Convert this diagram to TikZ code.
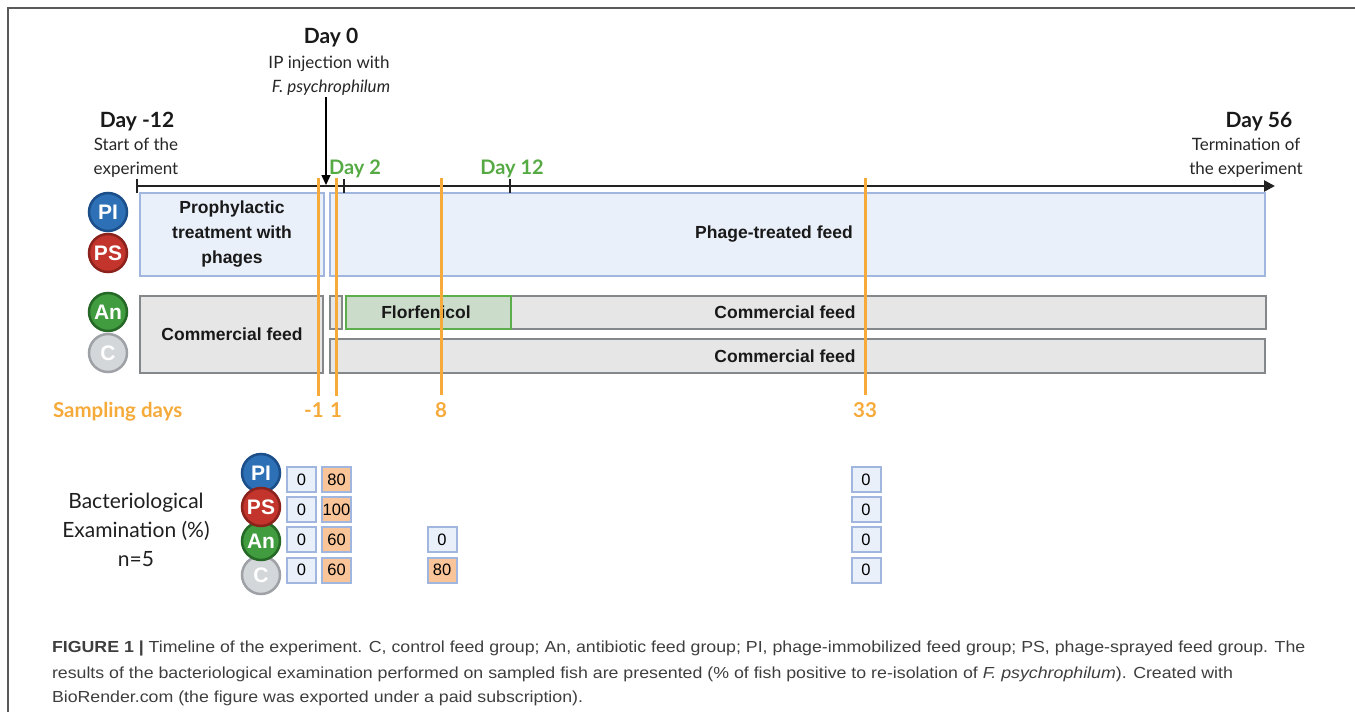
\documentclass[tikz,border=0pt]{standalone}
\usepackage{fontspec}
\setmainfont{Liberation Sans}
\newfontfamily\lato{Lato}
\newfontfamily\capfont[FakeStretch=1.11]{Liberation Sans}
\usetikzlibrary{arrows.meta}
\definecolor{framec}{RGB}{90,90,90}
\definecolor{axisc}{RGB}{34,34,34}
\definecolor{greentxt}{RGB}{86,170,68}
\definecolor{orangec}{RGB}{245,170,58}
\definecolor{bboxf}{RGB}{234,240,250}
\definecolor{bboxd}{RGB}{160,182,222}
\definecolor{gboxf}{RGB}{230,230,230}
\definecolor{gboxd}{RGB}{132,136,139}
\definecolor{fboxf}{RGB}{204,220,203}
\definecolor{fboxd}{RGB}{92,174,76}
\definecolor{posf}{RGB}{248,196,152}
\definecolor{piF}{RGB}{46,112,182}
\definecolor{piD}{RGB}{28,78,138}
\definecolor{psF}{RGB}{194,52,44}
\definecolor{psD}{RGB}{140,34,28}
\definecolor{anF}{RGB}{64,156,62}
\definecolor{anD}{RGB}{38,104,38}
\definecolor{cF}{RGB}{212,215,218}
\definecolor{cD}{RGB}{158,162,166}
\definecolor{capc}{RGB}{62,62,62}
\begin{document}
\begin{tikzpicture}[x=1pt,y=-1pt,
  every node/.style={inner sep=0pt, outer sep=0pt},
  hdr/.style={font=\lato\bfseries\fontsize{21}{25}\selectfont, anchor=base, text=black!90},
  subt/.style={font=\lato\fontsize{17}{24}\selectfont, anchor=base, text=black!85},
  grn/.style={font=\lato\bfseries\fontsize{20}{24}\selectfont, anchor=base, text=greentxt},
  bbox/.style={draw=bboxd, fill=bboxf, line width=2pt},
  gbox/.style={draw=gboxd, fill=gboxf, line width=2.5pt},
  fbox/.style={draw=fboxd, fill=fboxf, line width=2.5pt},
  btxt/.style={font=\bfseries\fontsize{17.5}{25}\selectfont, align=center, text=black!90},
  circ/.style={circle, minimum size=38pt, line width=2.5pt, font=\bfseries\fontsize{21}{21}\selectfont, text=white},
  orline/.style={draw=orangec, line width=3pt},
  ortxt/.style={font=\lato\bfseries\fontsize{20.5}{24}\selectfont, anchor=base, text=orangec},
  axisline/.style={draw=axisc, line width=2.5pt},
  cell/.style={draw=bboxd, line width=2pt, minimum width=29pt, minimum height=25pt, font=\fontsize{16.5}{16.5}\selectfont, text=black},
  negcell/.style={cell, fill=bboxf},
  poscell/.style={cell, fill=posf},
  captxt/.style={font=\capfont\fontsize{16}{20}\selectfont, text=capc, anchor=base west}
]
\useasboundingbox (0,0) rectangle (1355,712);
% frame
\draw[framec, line width=1.5pt] (1355,8) -- (8,8) -- (8,712);

% headers
\node[hdr] (d0) at (331,43) {Day 0};
\node[subt] (d0a) at (329,68) {IP injection with};
\node[subt] (d0b) at (331,92) {\itshape F. psychrophilum};
\node[hdr] (dm12) at (137,127) {Day -12};
\node[subt] (dm12a) at (136,150) {Start of the};
\node[subt] (dm12b) at (136,174) {experiment};
\node[hdr] (d56) at (1259,127) {Day 56};
\node[subt] (d56a) at (1246,150) {Termination of};
\node[subt] (d56b) at (1246,174) {the experiment};
\node[grn] (d2) at (355,174) {Day 2};
\node[grn] (d12) at (512,174) {Day 12};

% boxes
\node[bbox, minimum width=184pt, minimum height=83pt] (pre) at (232,234.5) {};
\node[btxt] (pretxt) at (232,234.5) {Prophylactic\\treatment with\\phages};
\node[bbox, minimum width=935pt, minimum height=83pt] (phage) at (797.5,234.5) {};
\node[btxt] (phagetxt) at (774,234.5) {Phage-treated feed};
\node[gbox, minimum width=183pt, minimum height=77pt] (cfl) at (231.5,334.5) {};
\node[btxt] (cfltxt) at (232,334.5) {Commercial feed};
\node[gbox, minimum width=12pt, minimum height=33pt] (small) at (336,312.5) {};
\node[gbox, minimum width=756pt, minimum height=33pt] (cft) at (888,312.5) {};
\node[fbox, minimum width=165pt, minimum height=33pt] (flor) at (428.5,312.5) {};
\node[btxt] (flortxt) at (426,312.5) {Florfenicol};
\node[btxt] (cfttxt) at (785,312.5) {Commercial feed};
\node[gbox, minimum width=935pt, minimum height=34pt] (cfb) at (797.5,356) {};
\node[btxt] (cfbtxt) at (785,356) {Commercial feed};

% group circles (timeline)
\node[circ, fill=piF, draw=piD] (pi1) at (108,212) {PI};
\node[circ, fill=psF, draw=psD] (ps1) at (108,253) {PS};
\node[circ, fill=anF, draw=anD] (an1) at (108,312) {An};
\node[circ, fill=cF, draw=cD] (c1) at (108,353) {C};

% axis
\coordinate (axs) at (137,186);
\coordinate (axe) at (1275,186);
\draw[axisline, -{Triangle[length=11pt,width=11pt]}] (axs) -- (axe);
\draw[axisc, line width=2pt] (137,179) -- (137,193);
\draw[axisc, line width=2pt] (344,179) -- (344,193);
\draw[axisc, line width=2pt] (510,179) -- (510,193);

% day 0 arrow
\coordinate (d0top) at (326,97);
\coordinate (d0pt) at (326,185);
\draw[black, line width=1.3pt, -{Triangle[length=10pt,width=9pt]}] (d0top) -- (d0pt);

% sampling days
\node[ortxt, anchor=base west] (sdays) at (53,417) {Sampling days};
\node[ortxt] (s1) at (314,417) {-1};
\node[ortxt] (s2) at (336,417) {1};
\node[ortxt] (s3) at (441,417) {8};
\node[ortxt] (s4) at (865,417) {33};
\coordinate (t1) at (318,178);
\coordinate (t2) at (336,178);
\coordinate (t3) at (441,178);
\coordinate (t4) at (865,178);
\draw[orline] (t1) -- (318,396);
\draw[orline] (t2) -- (336,396);
\draw[orline] (t3) -- ([yshift=7pt]s3.north);
\draw[orline] (t4) -- ([yshift=7pt]s4.north);

% bacteriological examination
\node[font=\lato\fontsize{21}{29}\selectfont, align=center, text=black!88] (bact) at (136,530) {Bacteriological\\Examination (\%)\\n=5};

\node[circ, fill=piF, draw=piD] (pi2) at (261,473) {PI};
\node[circ, fill=cF, draw=cD] (c2) at (261,575) {C};
\node[circ, fill=anF, draw=anD] (an2) at (261,541) {An};
\node[circ, fill=psF, draw=psD] (ps2) at (261,507) {PS};

\node[negcell] (a1) at (301.5,479.5) {0};
\node[negcell] (a2) at (301.5,509.5) {0};
\node[negcell] (a3) at (301.5,539.5) {0};
\node[negcell] (a4) at (301.5,570) {0};
\node[poscell] (b1) at (336.5,479.5) {80};
\node[poscell] (b2) at (336.5,509.5) {100};
\node[poscell] (b3) at (336.5,539.5) {60};
\node[poscell] (b4) at (336.5,570) {60};
\node[negcell] (e3) at (442,539.5) {0};
\node[poscell] (e4) at (442,570) {80};
\node[negcell] (f1) at (866,479.5) {0};
\node[negcell] (f2) at (866,509.5) {0};
\node[negcell] (f3) at (866,539.5) {0};
\node[negcell] (f4) at (866,570) {0};

% caption
\node[captxt] (cap1) at (52,652) {\textbf{FIGURE 1 |} Timeline of the experiment. C, control feed group; An, antibiotic feed group; PI, phage-immobilized feed group; PS, phage-sprayed feed group. The};
\node[captxt] (cap2) at (52,678) {results of the bacteriological examination performed on sampled fish are presented (\% of fish positive to re-isolation of \textit{F. psychrophilum}). Created with};
\node[captxt] (cap3) at (52,702) {BioRender.com (the figure was exported under a paid subscription).};
\end{tikzpicture}
\end{document}
